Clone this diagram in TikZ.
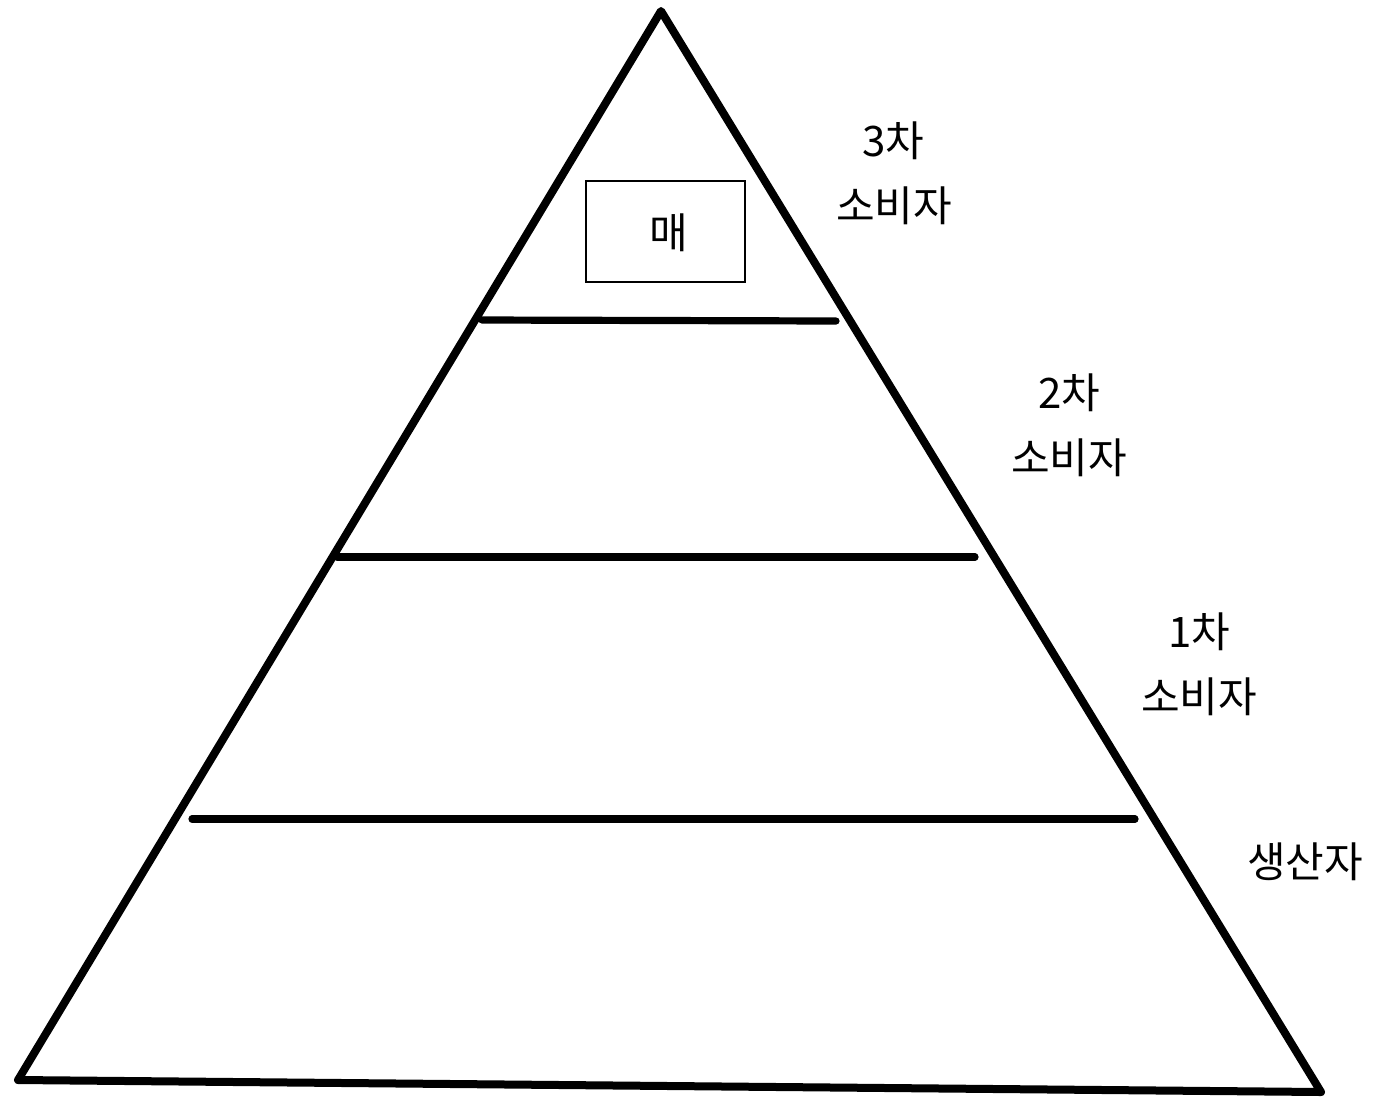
\documentclass[tikz,border=0pt]{standalone}
\usepackage{fontspec}
\newfontfamily\kr{Noto Sans CJK KR}
\begin{document}
\begin{tikzpicture}[x=0.75pt,y=-0.75pt,
  tri/.style={line width=6pt,line join=round,line cap=round},
  level/.style={line width=5.4pt,line cap=round},
  lbl/.style={font=\kr\fontsize{31.5}{36}\selectfont,inner sep=0pt,align=center},
  box/.style={draw,line width=0.8pt,minimum width=119.25pt,minimum height=75.75pt,inner sep=0pt}]
\useasboundingbox (0,0) rectangle (1381,1101);
\coordinate (apex) at (661,11);
\coordinate (bl) at (18,1080);
\coordinate (br) at (1321,1092);
\draw[tri] (apex) -- (bl) -- (br) -- cycle;
\coordinate (l1a) at (482,320); \coordinate (l1b) at (836,321);
\coordinate (l2a) at (337,557); \coordinate (l2b) at (975,557);
\coordinate (l3a) at (192,819); \coordinate (l3b) at (1135,819);
\draw[level] (l1a) -- (l1b);
\draw[level] (l2a) -- (l2b);
\draw[level] (l3a) -- (l3b);
\node[box] (hawk) at (665.5,231.5) {};
\node[lbl] (hawkt) at (669,233) {매};
\node[lbl] (t3a) at (893,141) {3차};
\node[lbl] (t3b) at (894,206) {소비자};
\node[lbl] (t2a) at (1069,393) {2차};
\node[lbl] (t2b) at (1069,458) {소비자};
\node[lbl] (t1a) at (1199,632) {1차};
\node[lbl] (t1b) at (1199,697) {소비자};
\node[lbl] (p) at (1305,862) {생산자};
\end{tikzpicture}
\end{document}
